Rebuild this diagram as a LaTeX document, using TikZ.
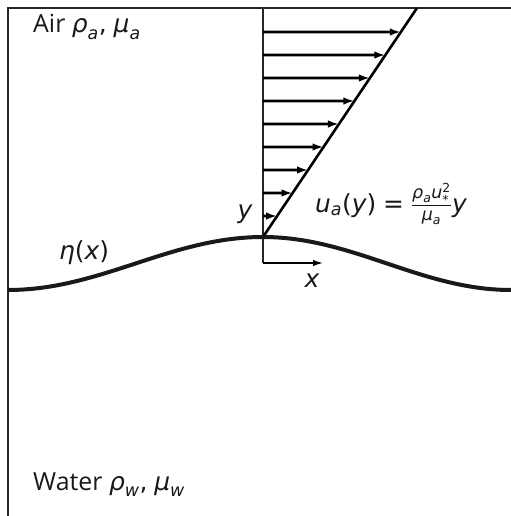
\documentclass[tikz,border=0pt]{standalone}
\usepackage{amsmath}
\usepackage{fontspec}
\setmainfont{Open Sans}
\newfontfamily\djf{DejaVu Sans}
\DeclareMathSizes{25}{25}{17.5}{12.5}
\usetikzlibrary{arrows.meta,calc}
\newcommand\mv[1]{\text{\djf\itshape #1}}
\newcommand\mt[1]{\text{\djf #1}}
\begin{document}
\begin{tikzpicture}[x=1bp,y=-1bp,
  frame/.style={line width=1.8bp, black!85},
  vel/.style={line width=2.6bp, -{Latex[length=11bp,width=7.5bp]}},
  lbl/.style={font=\fontsize{25}{30}\selectfont, inner sep=0pt, text=black!90}]
\useasboundingbox (0,0) rectangle (511,516);
\coordinate (TL) at (8,8);
\coordinate (TR) at (511,8);
\coordinate (BL) at (8,516);
\draw[frame] (TR) -- (TL) -- (BL);
\coordinate (O) at (263,237);
\coordinate (T) at (417,8);
\coordinate (Ytop) at (263,8);
\coordinate (Ob) at (263,263);
\coordinate (Xe) at (323,263);
\draw[frame] (Ytop) -- (Ob);
\draw[line width=1.5bp, -{Latex[length=10bp,width=6.5bp]}] (Ob) -- (Xe);
\draw[line width=2.6bp] (O) -- (T);
\foreach \k in {0,...,8}{
  \coordinate (s\k) at (263,{216-23*\k});
  \coordinate (e\k) at ($(O)!{(21+23*\k)/229}!(T)$);
  \draw[vel] (s\k) -- (e\k);
}
\coordinate (wl) at (8,290);
\coordinate (wr) at (511,290);
\draw[line width=4bp, black!90] (wl) .. controls (101,290) and (170,237) .. (O)
  .. controls (353,237) and (421,290) .. (wr);
\node[lbl, anchor=base west] (air) at (33,33) {Air $\mv{ρ}_{\mv{a}}\mt{,}\;\mv{μ}_{\mv{a}}$};
\node[lbl, anchor=base west] (water) at (33,490) {Water $\mv{ρ}_{\mv{w}}\mt{,}\;\mv{μ}_{\mv{w}}$};
\node[lbl, anchor=base west] (eta) at (59,259) {$\mv{η}\mt{(}\mv{x}\mt{)}$};
\node[lbl, anchor=base] (ylab) at (245,218) {\djf\itshape y};
\node[lbl, anchor=base] (xlab) at (312,287) {\djf\itshape x};
\node[lbl, anchor=base west] (eq) at (315,212) {$\mv{u}_{\mv{a}}\mt{(}\mv{y}\mt{)}\mathrel{\mt{=}}\frac{\mv{ρ}_{\mv{a}}\mv{u}^{\mt{2}}_{\mt{*}}}{\mv{μ}_{\mv{a}}}\mv{y}$};
\end{tikzpicture}
\end{document}
